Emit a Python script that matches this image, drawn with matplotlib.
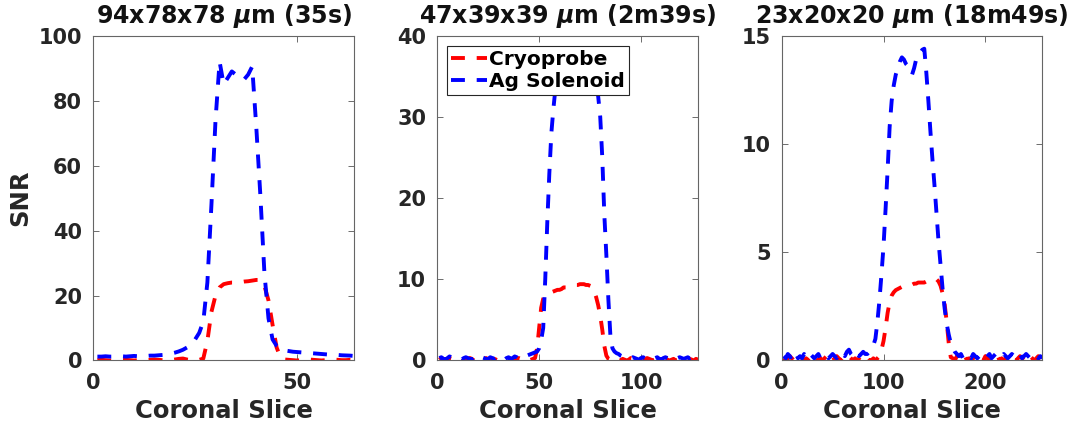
import numpy as np
import matplotlib
matplotlib.use("Agg")
import matplotlib.pyplot as plt

# ---------------- data ----------------
titles = [r"94x78x78 $\mu$m (35s)", r"47x39x39 $\mu$m (2m39s)", r"23x20x20 $\mu$m (18m49s)"]
series_labels = ["Cryoprobe", "Ag Solenoid"]
xlabel = "Coronal Slice"
ylabel = "SNR"

# Panel 1: slices 1..64
x1 = np.arange(1, 65)
cryo1 = ([0.1, 0.2, 0.1, 0.0, 0.1, 0.2, 0.3, 0.2, 0.1, 0.0,
          0.1, 0.2, 0.1, 0.2, 0.3, 0.2, 0.1, 0.0, 0.1, 0.3,
          0.5, 0.6, 0.3, 0.1, 0.1, 0.2] +
         [0.6, 6.0, 15.0, 20.0, 22.5, 23.5, 23.8, 24.0, 24.0, 24.1,
          24.3, 24.4, 24.6, 24.8, 24.8, 23.0, 18.5, 11.0, 4.0, 0.8] +
         [0.3, 0.2, 0.1, 0.0, 0.1, 0.2, 0.3, 0.2, 0.1, 0.0,
          0.1, 0.2, 0.3, 0.2, 0.1, 0.1, 0.2, 0.1])
sol1 = ([1.2, 1.2, 1.3, 1.2, 1.2, 1.3, 1.3, 1.2, 1.3, 1.4, 1.3, 1.4, 1.4, 1.5] +
        [1.5, 1.6, 1.7, 1.9, 2.1, 2.4, 2.8, 3.3, 4.0, 5.0, 6.5, 8.5] +
        [12.0, 24.0, 48.0, 74.0, 92.0] +
        [85.0, 87.0, 89.0, 88.0, 87.5, 86.5, 88.0, 90.5] +
        [72.0, 51.0, 27.0, 13.0, 6.5, 4.5, 3.5, 3.1, 2.9] +
        [2.7, 2.6, 2.5, 2.4, 2.3, 2.2, 2.1, 2.0, 1.9, 1.8, 1.75, 1.7, 1.6, 1.55, 1.5, 1.4])

# Panel 2: slices 1..128
x2 = np.arange(1, 129)
cryo2 = ([0.1, 0.3, 0.2, 0.0, 0.1, 0.3, 0.2, 0.1, 0.0, 0.2,
          0.3, 0.1, 0.0, 0.1, 0.2, 0.3, 0.2, 0.0, 0.1, 0.2,
          0.1, 0.0, 0.2, 0.3, 0.1, 0.0, 0.1, 0.2, 0.1, 0.0,
          0.1, 0.3, 0.2, 0.1, 0.0, 0.2, 0.1, 0.0, 0.1, 0.3,
          0.2, 0.1, 0.0, 0.1, 0.0, 0.1, 0.2] +
         [0.3, 1.5, 4.0, 6.5, 7.6, 8.0, 8.2, 8.3, 8.4, 8.5,
          8.6, 8.7, 8.7, 8.8, 9.0, 9.0, 9.1, 9.1, 9.2, 9.2,
          9.3, 9.3, 9.4, 9.4, 9.4, 9.3, 9.3, 9.2, 9.1, 8.5,
          7.8, 6.8, 5.5, 3.8, 1.8, 0.6, 0.2] +
         [0.1, 0.0, 0.2, 0.3, 0.1, 0.0, 0.2, 0.1, 0.0, 0.1,
          0.3, 0.2, 0.1, 0.0, 0.1, 0.2, 0.0, 0.1, 0.3, 0.2,
          0.1, 0.0, 0.1, 0.2, 0.1, 0.0, 0.2, 0.3, 0.1, 0.0,
          0.1, 0.2, 0.0, 0.1, 0.3, 0.2, 0.1, 0.0, 0.1, 0.2,
          0.1, 0.0, 0.2, 0.1])
sol2 = ([0.3, 0.4, 0.2, 0.1, 0.3, 0.5, 0.4, 0.2, 0.3, 0.4,
         0.2, 0.1, 0.3, 0.4, 0.3, 0.2, 0.1, 0.3, 0.5, 0.3,
         0.2, 0.4, 0.3, 0.1, 0.2, 0.4, 0.3, 0.2, 0.4, 0.5,
         0.3, 0.2, 0.1, 0.3, 0.4, 0.2, 0.3, 0.5, 0.4, 0.2,
         0.3, 0.4, 0.5, 0.6, 0.7, 0.8] +
        [0.9, 1.0, 1.1, 1.5, 2.5, 4.0, 10.0, 17.0, 23.0, 28.0,
         31.0, 33.5, 35.0, 36.0, 36.5, 36.8, 37.0, 37.2, 37.0, 36.8,
         36.6, 36.5, 36.7, 36.9, 37.0, 36.8, 36.5, 36.2, 35.8, 35.2,
         34.6, 34.0, 32.5, 30.0, 25.0, 18.0, 13.0, 7.5, 3.0, 1.5,
         1.1, 0.9, 0.8, 0.6, 0.5] +
        [0.4, 0.3, 0.2, 0.3, 0.4, 0.3, 0.2, 0.1, 0.3, 0.4,
         0.3, 0.2, 0.4, 0.3, 0.2, 0.3, 0.4, 0.2, 0.1, 0.3,
         0.4, 0.3, 0.2, 0.3, 0.4, 0.2, 0.3, 0.4, 0.3, 0.2,
         0.3, 0.4, 0.2, 0.3, 0.2, 0.3, 0.4])

# Panel 3: slices 2..256 (every second slice)
x3 = np.arange(2, 257, 2)
cryo3 = ([0.1, 0.0, 0.1, 0.2, 0.1, 0.0, 0.1, 0.0, 0.2, 0.1,
          0.0, 0.1, 0.0, 0.1, 0.2, 0.0, 0.1, 0.0, 0.1, 0.0,
          0.1, 0.2, 0.0, 0.1, 0.0, 0.1, 0.2, 0.1, 0.0, 0.1,
          0.0, 0.1, 0.2, 0.1, 0.0, 0.1, 0.0, 0.1, 0.2, 0.1,
          0.0, 0.1, 0.0, 0.0, 0.1, 0.0] +
         [0.1, 0.2, 0.5, 0.9, 1.5, 2.2, 2.7, 3.0, 3.15, 3.25,
          3.3, 3.35, 3.4, 3.45, 3.5, 3.5, 3.5, 3.5, 3.55, 3.55,
          3.6, 3.6, 3.6, 3.6, 3.65, 3.7, 3.7, 3.75, 3.75, 3.75,
          3.65, 3.45, 3.1, 2.6, 1.8, 0.8, 0.15] +
         [0.1, 0.0, 0.2, 0.1, 0.0, 0.1, 0.2, 0.0, 0.1, 0.0,
          0.1, 0.2, 0.1, 0.0, 0.1, 0.0, 0.2, 0.1, 0.0, 0.1,
          0.0, 0.1, 0.2, 0.0, 0.1, 0.0, 0.1, 0.2, 0.1, 0.0,
          0.1, 0.0, 0.1, 0.2, 0.1, 0.0, 0.1, 0.0, 0.2, 0.1,
          0.0, 0.1, 0.2, 0.1, 0.0])
sol3 = ([0.2, 0.1, 0.3, 0.2, 0.0, 0.2, 0.3, 0.1, 0.2, 0.1,
         0.3, 0.2, 0.1, 0.3, 0.2, 0.1, 0.2, 0.3, 0.1, 0.2,
         0.3, 0.2, 0.1, 0.2, 0.3, 0.2, 0.1, 0.3, 0.4, 0.3,
         0.2, 0.4, 0.5, 0.3, 0.2, 0.4, 0.3, 0.2, 0.3, 0.4,
         0.3, 0.3] +
        [0.4, 0.5, 0.7, 1.0, 1.8, 2.8, 4.0, 5.3, 7.0, 8.8,
         10.8, 12.0, 12.7, 13.2, 13.5, 13.8, 14.0, 13.9, 13.7, 13.6,
         13.4, 13.2, 13.5, 13.9, 14.1, 14.2, 14.35, 14.4, 13.3, 12.0,
         10.6, 9.3, 8.1, 6.8, 5.5, 4.4, 3.3, 2.4, 1.7, 1.2,
         0.8, 0.6, 0.4] +
        [0.3, 0.2, 0.3, 0.1, 0.2, 0.3, 0.2, 0.1, 0.3, 0.2,
         0.1, 0.2, 0.3, 0.2, 0.1, 0.2, 0.3, 0.1, 0.2, 0.3,
         0.2, 0.1, 0.2, 0.3, 0.2, 0.1, 0.2, 0.3, 0.2, 0.1,
         0.2, 0.3, 0.1, 0.2, 0.3, 0.2, 0.1, 0.2, 0.3, 0.2,
         0.1, 0.2, 0.1])

xs = [x1, x2, x3]
cryos = [cryo1, cryo2, cryo3]
sols = [sol1, sol2, sol3]
xlims = [(0, 64), (0, 128), (0, 256)]
xticks = [[0, 50], [0, 50, 100], [0, 100, 200]]
ylims = [(0, 100), (0, 40), (0, 15)]
yticks = [[0, 20, 40, 60, 80, 100], [0, 10, 20, 30, 40], [0, 5, 10, 15]]

# ---------------- figure ----------------
plt.rcParams['font.family'] = ['DejaVu Sans']
plt.rcParams['font.weight'] = 'bold'
plt.rcParams['mathtext.fontset'] = 'dejavusans'
plt.rcParams['lines.scale_dashes'] = False

fig = plt.figure(figsize=(10.8, 4.25), dpi=100)
lefts = [0.0864, 0.4049, 0.7238]
W, B, H = 0.2414, 0.1518, 0.7642
txtc = '#262626'
dash = (0, (10, 8.5))

for i in range(3):
    ax = fig.add_axes([lefts[i], B, W, H])
    ax.plot(xs[i], cryos[i], color='#ff0000', lw=2.8, linestyle=dash, label=series_labels[0])
    ax.plot(xs[i], sols[i], color='#0000ff', lw=2.8, linestyle=dash, label=series_labels[1])
    ax.set_xlim(*xlims[i])
    ax.set_ylim(*ylims[i])
    ax.set_xticks(xticks[i])
    ax.set_yticks(yticks[i])
    ax.tick_params(direction='in', top=True, right=True, length=4, width=0.6,
                   color='#555555', labelsize=15, labelcolor=txtc)
    ax.tick_params(axis='x', pad=9)
    ax.tick_params(axis='y', pad=8)
    for lab in ax.get_xticklabels() + ax.get_yticklabels():
        lab.set_fontweight('bold')
    for sp in ax.spines.values():
        sp.set_color('#666666')
        sp.set_linewidth(0.8)
    ax.set_title(titles[i], fontsize=17, fontweight='bold', color='#111111', pad=9.5)
    ax.set_xlabel(xlabel, fontsize=17.5, fontweight='bold', color=txtc, labelpad=4)
    if i == 0:
        ax.set_ylabel(ylabel, fontsize=17.5, fontweight='bold', color=txtc, labelpad=5)
    if i == 1:
        leg = ax.legend(loc='upper left', frameon=True, fancybox=False,
                        handlelength=1.75, handletextpad=0.1, borderpad=0.2,
                        labelspacing=0.15, borderaxespad=0.5,
                        prop={'weight': 'bold', 'size': 14.5})
        leg.get_frame().set_edgecolor('#262626')
        leg.get_frame().set_linewidth(0.8)
        leg.get_frame().set_alpha(1.0)
        for t in leg.get_texts():
            t.set_color('black')

fig.savefig('out.png', dpi=100, facecolor='white')
